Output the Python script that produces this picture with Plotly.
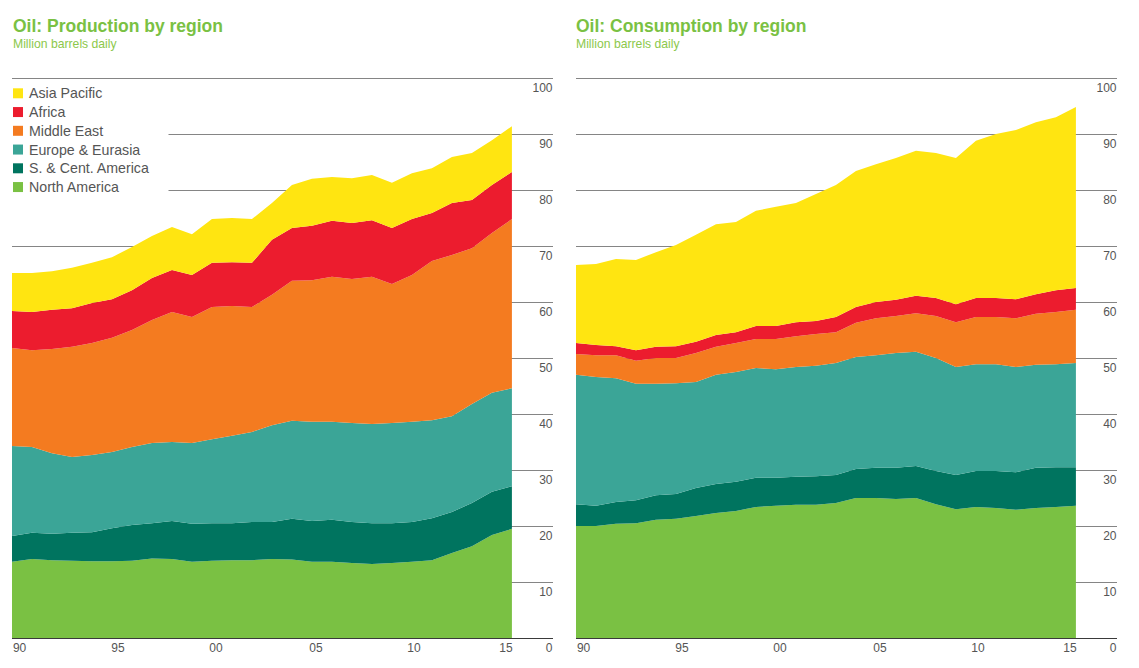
import plotly.graph_objects as go

years = list(range(1990, 2016))
regions = ["North America", "S. & Cent. America", "Europe & Eurasia", "Middle East", "Africa", "Asia Pacific"]
colors = ["#7AC143", "#00745F", "#3BA597", "#F47B20", "#EC1C2E", "#FFE511"]

prod_na = [13.6,14.1,13.9,13.8,13.7,13.7,13.8,14.2,14.1,13.6,13.8,13.9,13.9,14.1,14.0,13.6,13.6,13.4,13.2,13.4,13.6,13.9,15.2,16.4,18.4,19.5]
prod_sca = [4.6,4.7,4.7,5.0,5.2,5.9,6.4,6.3,6.8,6.8,6.7,6.6,6.8,6.6,7.3,7.3,7.5,7.3,7.3,7.1,7.1,7.5,7.3,7.7,7.7,7.6]
prod_ee = [16.1,15.3,14.4,13.5,13.8,13.6,13.9,14.3,14.1,14.4,15.0,15.6,16.1,17.3,17.5,17.7,17.5,17.7,17.7,17.9,17.9,17.5,17.1,17.7,17.7,17.5]
prod_me = [17.5,17.3,18.6,19.7,20.0,20.4,20.9,22.0,23.2,22.5,23.6,23.2,22.3,23.3,25.0,25.3,25.9,25.7,26.3,24.8,26.2,28.4,28.8,27.8,28.5,30.2]
prod_af = [6.6,6.8,7.0,6.9,7.1,6.9,7.1,7.5,7.5,7.5,7.9,7.8,7.9,9.8,9.4,9.7,10.0,10.0,10.1,10.0,10.0,8.6,9.3,8.6,8.6,8.4]
prod_ap = [6.8,7.0,6.9,7.2,7.2,7.5,7.7,7.5,7.7,7.3,7.8,7.9,7.8,6.6,7.7,8.4,7.8,8.0,8.1,8.1,8.2,8.0,8.2,8.4,8.0,8.2]

cons_na = [20.0,20.0,20.4,20.5,21.1,21.3,21.8,22.3,22.7,23.4,23.6,23.8,23.8,24.1,25.0,25.0,24.8,25.0,23.9,23.0,23.4,23.2,22.9,23.2,23.4,23.6]
cons_sca = [3.9,3.6,3.9,4.1,4.4,4.4,5.0,5.2,5.2,5.2,5.0,5.0,5.1,5.0,5.2,5.4,5.6,5.7,5.9,6.1,6.4,6.6,6.7,7.2,7.1,6.9]
cons_ee = [23.1,23.0,22.1,20.8,19.9,19.8,18.9,19.5,19.6,19.6,19.4,19.6,19.7,20.0,20.0,20.1,20.5,20.4,20.2,19.3,19.1,19.1,18.8,18.4,18.4,18.6]
cons_me = [3.7,3.9,4.1,4.1,4.6,4.5,5.2,5.0,5.2,5.2,5.4,5.5,5.7,5.5,6.1,6.6,6.6,6.9,7.5,8.0,8.4,8.4,8.7,9.1,9.3,9.5]
cons_af = [2.0,1.8,1.6,1.9,2.0,2.1,2.0,2.1,1.9,2.3,2.3,2.5,2.3,2.7,2.8,2.9,2.9,3.1,3.2,3.2,3.4,3.4,3.4,3.5,3.9,3.9]
cons_ap = [13.9,14.5,15.6,16.1,16.9,18.1,19.1,19.8,19.7,20.6,21.3,21.3,22.7,23.6,24.3,24.6,25.3,25.9,25.9,26.1,28.1,29.3,30.2,30.7,30.9,32.3]

production = [prod_na, prod_sca, prod_ee, prod_me, prod_af, prod_ap]
consumption = [cons_na, cons_sca, cons_ee, cons_me, cons_af, cons_ap]

x_tick_labels = ["90", "95", "00", "05", "10", "15"]
x_tick_places = [1990.38, 1995.3, 2000.2, 2005.2, 2010.1, 2014.7]
y_ticks = list(range(0, 101, 10))

# The page has an 8px body margin, so the figure is 16px smaller than the window
# and page pixel positions are converted to figure fractions through these helpers.
PAGE_MARGIN = 8
W, H = 1139 - 2 * PAGE_MARGIN, 668 - 2 * PAGE_MARGIN
FONT = "Liberation Sans"
TEXT = "#555555"
GREEN = "#7AC143"


def fx(px):
    return (px - PAGE_MARGIN) / W


def fy(px):
    return 1 - (px - PAGE_MARGIN) / H


fig = go.Figure()
for i, (name, color) in enumerate(zip(regions, colors)):
    fig.add_trace(go.Scatter(x=years, y=production[i], name=name, stackgroup="prod", mode="none",
                             fillcolor=color, showlegend=False, xaxis="x", yaxis="y"))
    fig.add_trace(go.Scatter(x=years, y=consumption[i], name=name, stackgroup="cons", mode="none",
                             fillcolor=color, showlegend=False, xaxis="x2", yaxis="y2"))


def xaxis(left_px, free_y):
    return dict(domain=[fx(left_px), fx(left_px + 540.5)], range=[1990, 2017.03],
                anchor="free", position=free_y, overlaying=None,
                automargin=False, tickmode="array", tickvals=x_tick_places, ticktext=x_tick_labels,
                ticklabelstandoff=1,
                showgrid=False, zeroline=False, showline=False, ticks="",
                tickfont=dict(family=FONT, size=12, color=TEXT))


def yaxis(anchor):
    # Range runs 1 unit past 0 and 100 so the lines at both ends are still drawn.
    return dict(domain=[fy(643.6), fy(72.4)], range=[-1, 101], anchor=anchor, side="right", automargin=False,
                tickmode="array", tickvals=y_ticks, ticktext=[str(v) for v in y_ticks],
                ticklabelposition="inside", ticklabelshift=10, ticklabelstandoff=-3, ticklabeloverflow="allow",
                showgrid=True, gridcolor="#858585", gridwidth=1.3,
                zeroline=True, zerolinecolor="#3A3A3A", zerolinewidth=1.3,
                showline=False, ticks="", tickfont=dict(family=FONT, size=12, color=TEXT))


annotations = []
for left, title in [(12.5, "Oil: Production by region"), (576, "Oil: Consumption by region")]:
    annotations.append(dict(text=f"<b>{title}</b>", xref="paper", yref="paper", x=fx(left), y=fy(26),
                            xanchor="left", yanchor="middle", showarrow=False, xshift=-2,
                            font=dict(family=FONT, size=17.5, color=GREEN)))
    annotations.append(dict(text="Million barrels daily", xref="paper", yref="paper", x=fx(left), y=fy(44),
                            xanchor="left", yanchor="middle", showarrow=False, xshift=-2,
                            font=dict(family=FONT, size=12.2, color="#8CC84B")))

shapes = [dict(type="rect", xref="paper", yref="paper", x0=fx(12), x1=fx(168.5), y0=fy(196), y1=fy(84),
               fillcolor="white", line=dict(width=0), layer="above")]
legend_rows = list(reversed(list(zip(regions, colors))))
for row, (name, color) in enumerate(legend_rows):
    cy = 93.3 + row * 18.75
    shapes.append(dict(type="rect", xref="paper", yref="paper", x0=fx(13), x1=fx(23),
                       y0=fy(cy + 5), y1=fy(cy - 5), fillcolor=color, line=dict(width=0), layer="above"))
    annotations.append(dict(text=name, xref="paper", yref="paper", x=fx(29), y=fy(cy), xanchor="left",
                            yanchor="middle", showarrow=False, xshift=-2,
                            font=dict(family=FONT, size=14.2, color=TEXT)))

fig.update_layout(template="none", width=W, height=H, margin=dict(l=0, r=0, t=0, b=0),
                  paper_bgcolor="white", plot_bgcolor="white", showlegend=False,
                  xaxis=xaxis(12, fy(638)), yaxis=yaxis("x"),
                  xaxis2=xaxis(576, fy(638)), yaxis2=yaxis("x2"), annotations=annotations, shapes=shapes)

fig.write_html("out.html")
